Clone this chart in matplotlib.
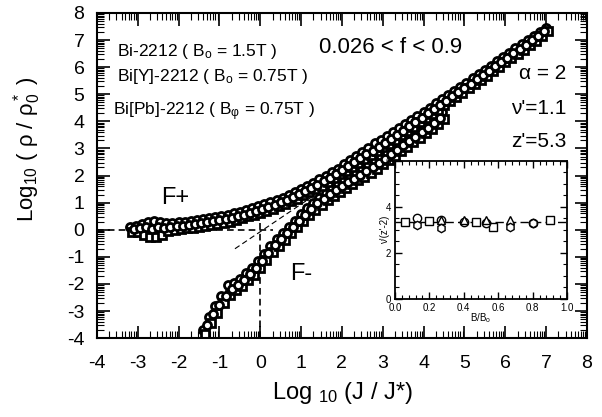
import numpy as np
import matplotlib
matplotlib.use("Agg")
import matplotlib.pyplot as plt
from matplotlib.ticker import FixedLocator, MultipleLocator

plt.rcParams['font.family'] = ['Liberation Sans', 'DejaVu Sans']
plt.rcParams['mathtext.fontset'] = 'custom'
plt.rcParams['mathtext.rm'] = 'Liberation Sans'
plt.rcParams['mathtext.it'] = 'Liberation Sans:italic'
plt.rcParams['axes.unicode_minus'] = False

# ---- F+ branch (three samples) ----
fp_a_x = [-3.2, -3.05, -2.9, -2.75, -2.6, -2.45, -2.3, -2.15, -2.0, -1.85,
          -1.7, -1.55, -1.4, -1.25, -1.1, -0.95, -0.8, -0.65, -0.5, -0.35,
          -0.2, -0.05, 0.1, 0.25, 0.4, 0.55, 0.7, 0.85, 1.0, 1.15,
          1.3, 1.45, 1.6, 1.75, 1.9, 2.05, 2.2, 2.35, 2.5, 2.65,
          2.8, 2.95, 3.1, 3.25, 3.4, 3.55, 3.7, 3.85, 4.0, 4.15,
          4.3, 4.45, 4.6, 4.75, 4.9, 5.05, 5.2, 5.35, 5.5, 5.65,
          5.8, 5.95, 6.1, 6.25, 6.4, 6.55, 6.7, 6.85, 7.0]
fp_a_y = [0.10, 0.14, 0.22, 0.30, 0.33, 0.28, 0.24, 0.25, 0.27, 0.30,
          0.33, 0.36, 0.40, 0.44, 0.47, 0.51, 0.55, 0.61, 0.67, 0.73,
          0.80, 0.87, 0.94, 1.02, 1.10, 1.19, 1.29, 1.39, 1.50, 1.61,
          1.73, 1.86, 1.98, 2.12, 2.26, 2.42, 2.57, 2.72, 2.88, 3.03,
          3.19, 3.33, 3.47, 3.62, 3.76, 3.91, 4.05, 4.20, 4.35, 4.50,
          4.66, 4.81, 4.97, 5.12, 5.28, 5.43, 5.59, 5.75, 5.91, 6.06,
          6.22, 6.38, 6.53, 6.69, 6.85, 7.00, 7.15, 7.30, 7.46]

fp_b_x = [-3.15, -3.0, -2.85, -2.7, -2.55, -2.4, -2.25, -2.1, -1.95, -1.8,
          -1.65, -1.5, -1.35, -1.2, -1.05, -0.9, -0.75, -0.6, -0.45, -0.3,
          -0.15, 0.0, 0.15, 0.3, 0.45, 0.6, 0.75, 0.9, 1.05, 1.2,
          1.35, 1.5, 1.65, 1.8, 1.95, 2.1, 2.25, 2.4, 2.55, 2.7,
          2.85, 3.0, 3.15, 3.3, 3.45, 3.6, 3.75, 3.9, 4.05, 4.2,
          4.35, 4.5, 4.65, 4.8, 4.95, 5.1, 5.25, 5.4, 5.55, 5.7,
          5.85, 6.0, 6.15, 6.3, 6.45, 6.6, 6.75, 6.9, 7.05]
fp_b_y = [-0.08, -0.10, -0.18, -0.26, -0.28, -0.20, -0.05, -0.02, 0.02, 0.05,
          0.08, 0.11, 0.14, 0.18, 0.21, 0.25, 0.30, 0.36, 0.42, 0.49,
          0.55, 0.62, 0.70, 0.78, 0.86, 0.95, 1.05, 1.15, 1.27, 1.38,
          1.50, 1.63, 1.76, 1.90, 2.04, 2.17, 2.32, 2.46, 2.61, 2.75,
          2.90, 3.04, 3.18, 3.33, 3.48, 3.64, 3.80, 3.96, 4.11, 4.27,
          4.43, 4.59, 4.74, 4.90, 5.06, 5.22, 5.37, 5.53, 5.69, 5.85,
          6.02, 6.18, 6.34, 6.50, 6.65, 6.81, 6.98, 7.14, 7.34]

fp_c_x = [-3.1, -2.95, -2.8, -2.65, -2.5, -2.35, -2.2, -2.05, -1.9, -1.75,
          -1.6, -1.45, -1.3, -1.15, -1.0, -0.85, -0.7, -0.55, -0.4, -0.25,
          -0.1, 0.05, 0.2, 0.35, 0.5, 0.65, 0.8, 0.95, 1.1, 1.25,
          1.4, 1.55, 1.7, 1.85, 2.0, 2.15, 2.3, 2.45, 2.6, 2.75,
          2.9, 3.05, 3.2, 3.35, 3.5, 3.65, 3.8, 3.95, 4.1, 4.25,
          4.4, 4.55, 4.7, 4.85, 5.0, 5.15, 5.3, 5.45, 5.6, 5.75,
          5.9, 6.05, 6.2, 6.35, 6.5, 6.65, 6.8, 6.95]
fp_c_y = [0.03, 0.05, 0.12, 0.02, 0.10, 0.06, 0.10, 0.13, 0.15, 0.18,
          0.21, 0.25, 0.28, 0.31, 0.35, 0.39, 0.44, 0.50, 0.56, 0.63,
          0.70, 0.77, 0.84, 0.92, 1.01, 1.10, 1.20, 1.31, 1.43, 1.54,
          1.67, 1.79, 1.92, 2.06, 2.20, 2.34, 2.49, 2.63, 2.78, 2.92,
          3.06, 3.21, 3.35, 3.50, 3.66, 3.81, 3.97, 4.13, 4.29, 4.44,
          4.60, 4.76, 4.92, 5.07, 5.23, 5.39, 5.55, 5.70, 5.86, 6.03,
          6.19, 6.35, 6.51, 6.67, 6.83, 6.99, 7.15, 7.32]

# ---- F- branch (three samples) ----
fm_a_x = [-1.4, -1.25, -1.1, -0.95, -0.8, -0.65, -0.5, -0.35, -0.2, -0.05,
          0.1, 0.25, 0.4, 0.55, 0.7, 0.85, 1.0, 1.15, 1.3, 1.45,
          1.6, 1.75, 1.9, 2.05, 2.2, 2.35, 2.5, 2.65, 2.8, 2.95,
          3.1, 3.25, 3.4, 3.55, 3.7, 3.85, 4.0, 4.15, 4.3, 4.45]
fm_a_y = [-3.68, -3.20, -2.82, -2.45, -2.05, -1.95, -1.80, -1.61, -1.40, -1.16,
          -0.90, -0.60, -0.34, -0.12, 0.11, 0.34, 0.58, 0.79, 1.00, 1.19,
          1.36, 1.53, 1.68, 1.83, 1.96, 2.10, 2.24, 2.38, 2.53, 2.68,
          2.83, 2.99, 3.16, 3.33, 3.49, 3.65, 3.82, 3.99, 4.16, 4.34]

fm_b_x = [-1.35, -1.2, -1.05, -0.9, -0.75, -0.6, -0.45, -0.3, -0.15, 0.0,
          0.15, 0.3, 0.45, 0.6, 0.75, 0.9, 1.05, 1.2, 1.35, 1.5,
          1.65, 1.8, 1.95, 2.1, 2.25, 2.4, 2.55, 2.7, 2.85, 3.0,
          3.15, 3.3, 3.45, 3.6, 3.75, 3.9, 4.05, 4.2, 4.35, 4.5]
fm_b_y = [-3.85, -3.45, -3.08, -2.72, -2.42, -2.24, -2.07, -1.86, -1.66, -1.41,
          -1.12, -0.83, -0.59, -0.36, -0.13, 0.10, 0.33, 0.54, 0.74, 0.93,
          1.09, 1.26, 1.41, 1.55, 1.69, 1.82, 1.96, 2.11, 2.26, 2.41,
          2.57, 2.73, 2.90, 3.06, 3.22, 3.39, 3.56, 3.73, 3.90, 4.08]

fm_c_x = [-1.3, -1.15, -1.0, -0.85, -0.7, -0.55, -0.4, -0.25, -0.1, 0.05,
          0.2, 0.35, 0.5, 0.65, 0.8, 0.95, 1.1, 1.25, 1.4, 1.55,
          1.7, 1.85, 2.0, 2.15, 2.3, 2.45, 2.6, 2.75, 2.9, 3.05,
          3.2, 3.35, 3.5, 3.65, 3.8, 3.95, 4.1, 4.25, 4.4]
fm_c_y = [-3.50, -3.12, -2.78, -2.44, -2.20, -2.02, -1.84, -1.63, -1.42, -1.16,
          -0.86, -0.58, -0.35, -0.12, 0.10, 0.34, 0.56, 0.77, 0.97, 1.14,
          1.31, 1.47, 1.62, 1.76, 1.89, 2.03, 2.17, 2.32, 2.47, 2.62,
          2.78, 2.94, 3.11, 3.27, 3.44, 3.61, 3.77, 3.95, 4.12]

# guide lines
hline_x = [-4, 0.3]
hline_y = [0, 0]
vline_x = [0, 0]
vline_y = [-4, 0.75]
diag_x = [-0.62, 1.45]
diag_y = [-0.7, 1.4]

# ---- inset: nu'(z'-2) vs B/Bo ----
in_sq_x = [0.06, 0.2, 0.47, 0.57, 0.9]
in_sq_y = [3.35, 3.38, 3.35, 3.15, 3.45]
in_ci_x = [0.13, 0.27, 0.4, 0.53, 0.8]
in_ci_y = [3.5, 3.42, 3.35, 3.3, 3.3]
in_tr_x = [0.27, 0.4, 0.53, 0.67]
in_tr_y = [3.45, 3.45, 3.45, 3.45]
in_hx_x = [0.13, 0.27, 0.67, 0.8]
in_hx_y = [3.22, 3.1, 3.15, 3.3]
fit_x = [0.0, 1.0]
fit_y = [3.35, 3.35]

main_ticks = list(range(-4, 9))

fig = plt.figure(figsize=(6.02, 4.17), dpi=100)
ax = fig.add_axes([0.161, 0.189, 0.814, 0.780])

# dashed guides under the data
ax.plot(hline_x, hline_y, ls=(0, (4, 2.5)), color='black', lw=1.2, zorder=1)
ax.plot(vline_x, vline_y, ls=(0, (4, 2.5)), color='black', lw=1.2, zorder=1)
ax.plot(diag_x, diag_y, ls=(0, (5, 3)), color='black', lw=0.8, zorder=1)

mk = dict(ls='none', mfc='white', mec='black', mew=2.0, ms=5.8, zorder=2)
ax.plot(fm_a_x, fm_a_y, 'o', **mk)
ax.plot(fm_b_x, fm_b_y, 's', **mk)
ax.plot(fm_c_x, fm_c_y, 'o', **mk)
ax.plot(fp_a_x, fp_a_y, 'o', **mk)
ax.plot(fp_b_x, fp_b_y, 's', **mk)
ax.plot(fp_c_x, fp_c_y, 'o', **mk)

ax.set_xlim(-4, 8)
ax.set_ylim(-4, 8)
ax.xaxis.set_major_locator(FixedLocator(main_ticks))
ax.yaxis.set_major_locator(FixedLocator(main_ticks))
minor = [n + np.log10(k) for n in range(-4, 8) for k in range(2, 10)]
ax.xaxis.set_minor_locator(FixedLocator(minor))
ax.yaxis.set_minor_locator(FixedLocator(minor))
ax.tick_params(which='both', direction='in', top=True, right=True)
ax.tick_params(which='major', length=9, width=1.2, labelsize=14)
ax.tick_params(which='minor', length=5, width=0.8)
ax.tick_params(axis='x', which='major', pad=12)
ax.tick_params(axis='y', which='major', pad=9)
for s in ax.spines.values():
    s.set_linewidth(1.5)

ax.set_xlabel("Log $_{10}$ (J / J*)", fontsize=17)
ax.xaxis.set_label_coords(0.5, -0.13)
ax.set_ylabel("Log$_{10}$ ( ρ / ρ$_0^*$ )", fontsize=16)
ax.yaxis.set_label_coords(-0.11, 0.58)

ax.text(-3.5, 6.56, "Bi-2212 ( $\\mathrm{B_o}$ = 1.5T )", fontsize=12.5, va='center')
ax.text(-3.5, 5.64, "Bi[Y]-2212 ( $\\mathrm{B_o}$ = 0.75T )", fontsize=12.5, va='center')
ax.text(-3.6, 4.34, "Bi[Pb]-2212 ( $\\mathrm{B_φ}$ = 0.75T )", fontsize=12.5, va='center')
ax.text(3.2, 6.74, "0.026 < f < 0.9", fontsize=16, ha='center', va='center')
ax.text(7.5, 5.78, "α = 2", fontsize=15, ha='right', va='center')
ax.text(7.5, 4.49, "ν'=1.1", fontsize=15, ha='right', va='center')
ax.text(7.5, 3.24, "z'=5.3", fontsize=15, ha='right', va='center')
ax.text(-2.42, 1.19, "F+", fontsize=17, va='center')
ax.text(0.73, -1.62, "F-", fontsize=17, va='center')

# inset
axi = fig.add_axes([0.656, 0.283, 0.286, 0.331])
axi.plot(fit_x, fit_y, ls=(0, (6, 3)), color='black', lw=1.0, zorder=1)
mi = dict(ls='none', mfc='white', mec='black', mew=1.0, ms=6, zorder=2)
axi.plot(in_sq_x, in_sq_y, 's', **mi)
axi.plot(in_ci_x, in_ci_y, 'o', **mi)
axi.plot(in_tr_x, in_tr_y, '^', **mi)
axi.plot(in_hx_x, in_hx_y, 'h', **mi)
axi.set_xlim(0, 1)
axi.set_ylim(0, 6)
axi.xaxis.set_major_locator(FixedLocator([0.0, 0.2, 0.4, 0.6, 0.8, 1.0]))
axi.xaxis.set_minor_locator(MultipleLocator(0.04))
axi.yaxis.set_major_locator(FixedLocator([0, 2, 4, 6]))
axi.yaxis.set_minor_locator(MultipleLocator(0.5))
axi.xaxis.set_major_formatter(matplotlib.ticker.FormatStrFormatter('%.1f'))
axi.tick_params(which='both', direction='in', top=True, right=True, labelsize=7, pad=3)
axi.tick_params(which='major', length=5, width=1.0)
axi.tick_params(which='minor', length=3, width=0.8)
for s in axi.spines.values():
    s.set_linewidth(1.3)
axi.set_xlabel("B/$\\mathrm{B_o}$", fontsize=7, labelpad=0)
axi.xaxis.set_label_coords(0.5, -0.09)
axi.set_ylabel("ν'(z'-2)", fontsize=7)
axi.yaxis.set_label_coords(-0.03, 0.5)

fig.savefig("out.png", dpi=100)
